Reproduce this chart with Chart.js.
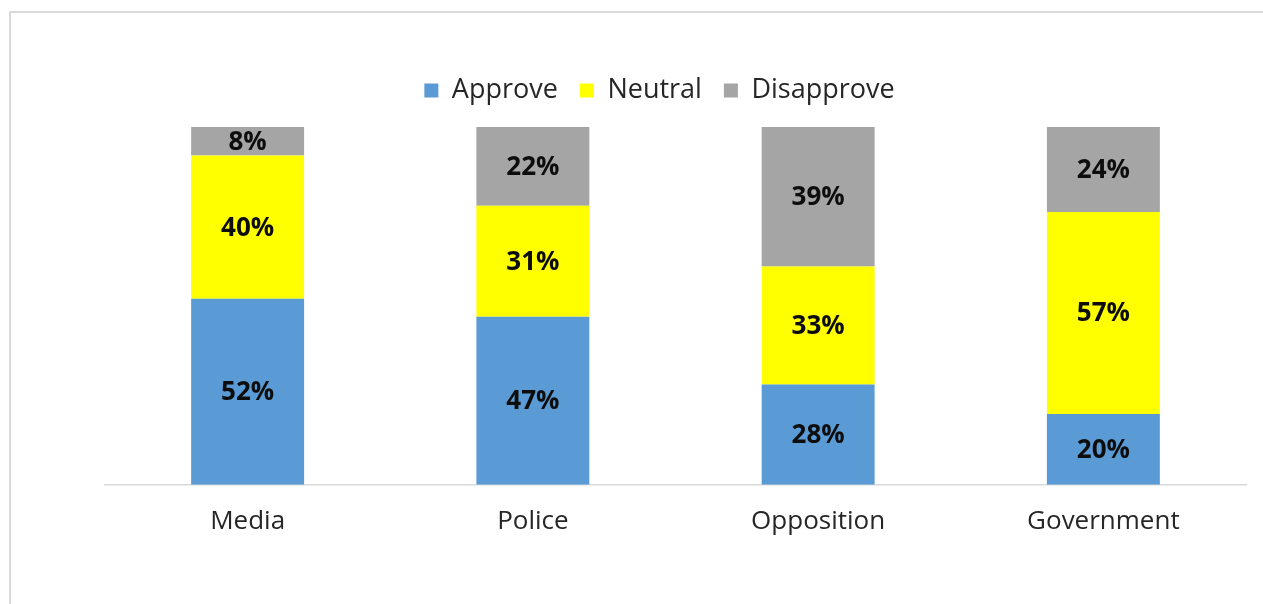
<!DOCTYPE html>
<html>
<head>
<meta charset="utf-8">
<script src="https://cdn.jsdelivr.net/npm/chart.js@4"></script>
<style>
  html, body { margin: 0; padding: 0; background: #fff; overflow: hidden; }
  #wrap { position: relative; width: 1263px; height: 604px; }
  #frame { position: absolute; left: 9px; top: 11px; width: 1300px; height: 700px; border: 2px solid #d9d9d9; box-sizing: border-box; }
  canvas { position: absolute; left: 0; top: 0; }
</style>
</head>
<body>
<div id="wrap">
  <div id="frame"></div>
  <canvas id="c" width="1263" height="604"></canvas>
</div>
<script>
const categories = ['Media', 'Police', 'Opposition', 'Government'];
const approve = [52, 47, 28, 20];
const neutral = [40, 31, 33, 57];
const disapprove = [8, 22, 39, 24];
const seriesNames = ['Approve', 'Neutral', 'Disapprove'];
const seriesColors = ['#5b9bd5', '#ffff00', '#a5a5a5'];

const raw = [approve, neutral, disapprove];
const totals = categories.map((_, i) => raw.reduce((s, arr) => s + arr[i], 0));
const share = raw.map(arr => arr.map((v, i) => v / totals[i] * 100));

const FONT = '"Open Sans", "DejaVu Sans", sans-serif';

const labelPlugin = {
  id: 'segLabels',
  afterDatasetsDraw(chart) {
    const ctx = chart.ctx;
    ctx.save();
    ctx.font = 'bold 26px ' + FONT;
    ctx.fillStyle = '#0d0d0d';
    ctx.textAlign = 'center';
    ctx.textBaseline = 'middle';
    chart.data.datasets.forEach((ds, di) => {
      const meta = chart.getDatasetMeta(di);
      meta.data.forEach((bar, i) => {
        const p = bar.getProps(['x', 'y', 'base'], true);
        ctx.fillText(raw[di][i] + '%', p.x, (p.y + p.base) / 2 + 1);
      });
    });
    ctx.restore();
  }
};

const legendMargin = {
  id: 'legendMargin',
  beforeInit(chart) {
    const origFit = chart.legend.fit;
    chart.legend.fit = function () {
      origFit.bind(chart.legend)();
      this.height += 13;
    };
  }
};

new Chart(document.getElementById('c'), {
  type: 'bar',
  data: {
    labels: categories,
    datasets: seriesNames.map((n, k) => ({
      label: n,
      data: share[k],
      backgroundColor: seriesColors[k],
      borderWidth: 0,
      categoryPercentage: 1,
      barPercentage: 0.396
    }))
  },
  options: {
    responsive: false,
    animation: false,
    layout: { padding: { left: 73, right: 17, top: 55, bottom: 54 } },
    plugins: {
      legend: {
        position: 'top',
        labels: {
          boxWidth: 14, boxHeight: 14, padding: 22,
          color: '#262626',
          font: { family: FONT, size: 27 }
        }
      },
      tooltip: { enabled: false }
    },
    scales: {
      x: {
        stacked: true,
        grid: { display: false },
        border: { display: true, color: '#d9d9d9', width: 1.5 },
        ticks: { color: '#262626', font: { family: FONT, size: 26 }, padding: 13 }
      },
      y: {
        stacked: true,
        min: 0, max: 100,
        grid: { display: false },
        border: { display: false },
        ticks: { display: false },
        afterFit(scale) { scale.width = 32; }
      }
    }
  },
  plugins: [labelPlugin, legendMargin]
});
</script>
</body>
</html>
